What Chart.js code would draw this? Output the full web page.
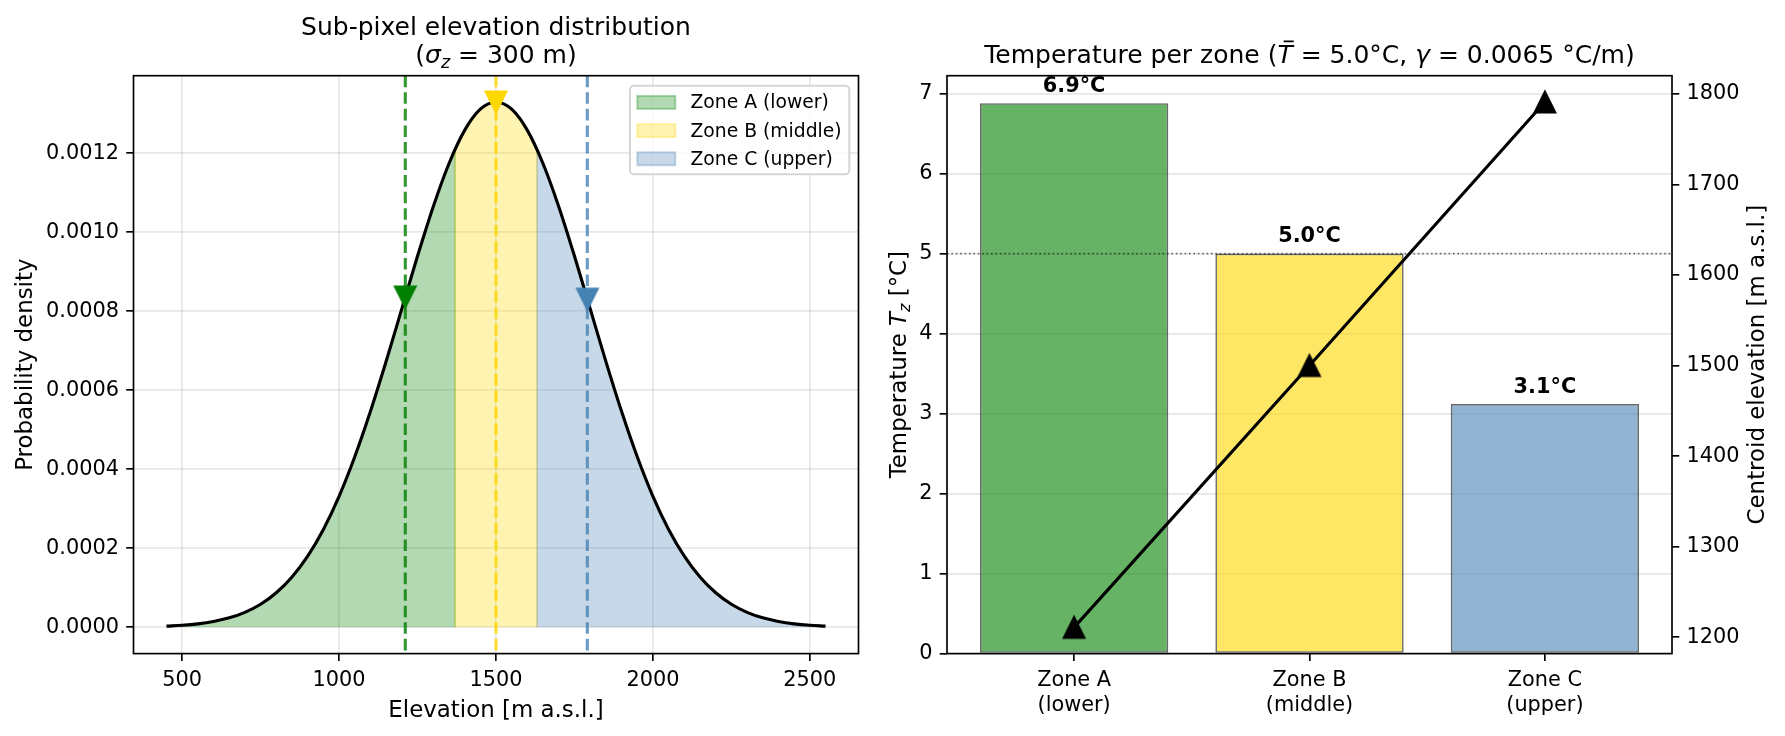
<!DOCTYPE html>
<html><head><meta charset="utf-8">
<script src="https://cdn.jsdelivr.net/npm/chart.js@4.4.0/dist/chart.umd.min.js"></script>
<style>
html,body{margin:0;padding:0;background:#fff;}
#wrap{position:relative;width:1785px;height:736px;overflow:hidden;background:#fff;}
canvas{position:absolute;top:0;}
#c1{left:0;} #c2{left:860px;}
</style></head><body>
<div id="wrap"><canvas id="c1" width="880" height="736"></canvas><canvas id="c2" width="925" height="736"></canvas></div>
<script>
// ---------------- data ----------------
const elevation = [450,500,550,600,650,700,750,800,850,900,950,1000,1050,1100,1150,1200,1250,1300,1350,1400,1450,1500,
  1550,1600,1650,1700,1750,1800,1850,1900,1950,2000,2050,2100,2150,2200,2250,2300,2350,2400,2450,2500,2550];
const density = [0.0000029,0.0000051,0.0000088,0.0000148,0.0000240,0.0000380,0.0000584,0.0000874,0.0001272,0.0001800,
  0.0002477,0.0003316,0.0004317,0.0005467,0.0006733,0.0008066,0.0009398,0.0010648,0.0011735,0.0012579,0.0013115,0.0013298,
  0.0013115,0.0012579,0.0011735,0.0010648,0.0009398,0.0008066,0.0006733,0.0005467,0.0004317,0.0003316,0.0002477,0.0001800,
  0.0001272,0.0000874,0.0000584,0.0000380,0.0000240,0.0000148,0.0000088,0.0000051,0.0000029];
const zoneNames = ['Zone A (lower)', 'Zone B (middle)', 'Zone C (upper)'];
const zoneTickLabels = [['Zone A', '(lower)'], ['Zone B', '(middle)'], ['Zone C', '(upper)']];
const zoneEdges = [1370, 1631];
const zoneEdgeDensity = [0.0012106, 0.0012089];
const centroidElev = [1211, 1500, 1791];
const centroidDensity = [0.0008362, 0.0013298, 0.0008307];
const zoneTemp = [6.88, 5.0, 3.12];
const meanTemp = 5.0;
const elevTicks = [500, 1000, 1500, 2000, 2500];
const densityTicks = [0, 0.0002, 0.0004, 0.0006, 0.0008, 0.0010, 0.0012];
const tempTicks = [0, 1, 2, 3, 4, 5, 6, 7];
const centroidTicks = [1200, 1300, 1400, 1500, 1600, 1700, 1800];

// ---------------- style ----------------
const PT = 150 / 72;
const FS_TICK = 10 * PT, FS_LABEL = 11 * PT, FS_TITLE = 12 * PT, FS_LEG = 9 * PT;
const GRID = 'rgba(176,176,176,0.3)';
const LW_AX = 0.8 * PT;
const zoneFill = ['rgba(0,128,0,0.3)', 'rgba(255,215,0,0.3)', 'rgba(70,130,180,0.3)'];
const zoneDash = ['rgba(0,128,0,0.8)', 'rgba(255,215,0,0.8)', 'rgba(70,130,180,0.8)'];
const zoneSolid = ['#008000', '#FFD700', '#4682B4'];
const barFill = ['rgba(0,128,0,0.6)', 'rgba(255,215,0,0.6)', 'rgba(70,130,180,0.6)'];
const FAM = '"DejaVu Sans", sans-serif';

Chart.defaults.font.family = FAM;
Chart.defaults.color = '#000';

function fnt(size, italic, bold) { return (italic ? 'italic ' : 'normal ') + (bold ? 'bold ' : 'normal ') + size + 'px ' + FAM; }
function drawRich(ctx, parts, x, y, size, align) {
  let w = 0;
  for (const p of parts) { ctx.font = fnt(size * (p.scale || 1), p.italic, p.bold); w += ctx.measureText(p.t).width; }
  let cx = align === 'center' ? x - w / 2 : x;
  ctx.textAlign = 'left'; ctx.textBaseline = 'alphabetic'; ctx.fillStyle = '#000';
  for (const p of parts) {
    const s = size * (p.scale || 1);
    ctx.font = fnt(s, p.italic, p.bold);
    const pw = ctx.measureText(p.t).width;
    ctx.fillText(p.t, cx, y + (p.dy || 0) * size);
    if (p.bar) { ctx.fillRect(cx + 0.25 * s, y - 0.9 * s, 0.4 * s, 0.07 * s); }
    cx += pw;
  }
}
function triImg(color, down) {
  const c = document.createElement('canvas'); c.width = 28; c.height = 28;
  const g = c.getContext('2d'); const h = 10.4, m = 14;
  g.beginPath();
  if (down) { g.moveTo(m - h, m - h); g.lineTo(m + h, m - h); g.lineTo(m, m + h); }
  else { g.moveTo(m, m - h); g.lineTo(m + h, m + h); g.lineTo(m - h, m + h); }
  g.closePath(); g.fillStyle = color; g.fill();
  g.strokeStyle = color; g.lineWidth = 2; g.lineJoin = 'miter'; g.stroke();
  return c;
}
const setTicks = arr => s => { s.ticks = arr.map(v => ({ value: v })); };
const fixW = w => s => { s.width = w; };
const fixH = h => s => { s.height = h; };
const axisGrid = (show) => ({ display: true, offset: false, drawOnChartArea: show, color: GRID, lineWidth: LW_AX, tickColor: '#000', tickWidth: LW_AX, tickLength: 7.3 });

function frame(chart) {
  const a = chart.chartArea, ctx = chart.ctx;
  ctx.save(); ctx.strokeStyle = '#000'; ctx.lineWidth = LW_AX;
  ctx.strokeRect(a.left, a.top, a.right - a.left, a.bottom - a.top); ctx.restore();
}

// ---------------- left chart ----------------
function zonePoints(i) {
  const lo = i === 0 ? -Infinity : zoneEdges[i - 1];
  const hi = i === zoneEdges.length ? Infinity : zoneEdges[i];
  const pts = [];
  if (i > 0) pts.push({ x: zoneEdges[i - 1], y: zoneEdgeDensity[i - 1] });
  elevation.forEach((x, k) => { if (x > lo && x < hi) pts.push({ x: x, y: density[k] }); });
  if (i < zoneEdges.length) pts.push({ x: zoneEdges[i], y: zoneEdgeDensity[i] });
  return pts;
}
const fillSets = zoneNames.map((n, i) => ({
  label: n, data: zonePoints(i), fill: 'origin', backgroundColor: zoneFill[i],
  borderColor: 'rgba(0,0,0,0)', borderWidth: 1, pointRadius: 0, cubicInterpolationMode: 'monotone', order: 2
}));

const leftPlugin = {
  id: 'leftDeco',
  beforeDatasetsDraw(chart) {
    const ctx = chart.ctx, a = chart.chartArea, xs = chart.scales.x, ys = chart.scales.y;
    ctx.save();
    zoneEdges.forEach((e, k) => {
      const px = xs.getPixelForValue(e);
      [zoneFill[k], zoneFill[k + 1]].forEach(col => {
        ctx.strokeStyle = col; ctx.lineWidth = 1.6; ctx.beginPath();
        ctx.moveTo(px, ys.getPixelForValue(0)); ctx.lineTo(px, ys.getPixelForValue(zoneEdgeDensity[k])); ctx.stroke();
      });
    });
    centroidElev.forEach((c, i) => {
      const px = xs.getPixelForValue(c);
      ctx.strokeStyle = zoneDash[i]; ctx.lineWidth = 1.5 * PT; ctx.setLineDash([3.7 * 1.5 * PT, 1.6 * 1.5 * PT]);
      ctx.beginPath(); ctx.moveTo(px, a.top); ctx.lineTo(px, a.bottom); ctx.stroke();
    });
    ctx.restore();
  },
  afterDraw(chart) {
    const ctx = chart.ctx, a = chart.chartArea;
    frame(chart);
    const cx = (a.left + a.right) / 2, cy = (a.top + a.bottom) / 2;
    ctx.save();
    drawRich(ctx, [{ t: 'Sub-pixel elevation distribution' }], cx, 34.5, FS_TITLE, 'center');
    drawRich(ctx, [{ t: '(' }, { t: 'σ', italic: true }, { t: 'z', italic: true, scale: 0.7, dy: 0.2 }, { t: ' = 300 m)' }], cx, 63, FS_TITLE, 'center');
    drawRich(ctx, [{ t: 'Elevation [m a.s.l.]' }], cx, 717, FS_LABEL, 'center');
    ctx.save(); ctx.translate(31.8, cy); ctx.rotate(-Math.PI / 2);
    drawRich(ctx, [{ t: 'Probability density' }], 0, 0, FS_LABEL, 'center');
    ctx.restore();
    const bx = 630, by = 85.7, bw = 219.3, bh = 88.6;
    ctx.beginPath(); ctx.roundRect(bx, by, bw, bh, 4);
    ctx.fillStyle = 'rgba(255,255,255,0.8)'; ctx.fill();
    ctx.strokeStyle = 'rgba(204,204,204,0.8)'; ctx.lineWidth = 2; ctx.stroke();
    const rows = [102.4, 130.6, 158.8];
    zoneNames.forEach((n, i) => {
      ctx.fillStyle = zoneFill[i]; ctx.fillRect(637.3, rows[i] - 6.5, 38, 13);
      ctx.strokeStyle = zoneFill[i]; ctx.lineWidth = 2; ctx.strokeRect(637.3, rows[i] - 6.5, 38, 13);
      drawRich(ctx, [{ t: n }], 690.5, rows[i] + 6, FS_LEG, 'left');
    });
    ctx.restore();
  }
};

new Chart(document.getElementById('c1'), {
  type: 'line',
  data: {
    datasets: [
      { label: 'centroids', data: centroidElev.map((x, i) => ({ x: x, y: centroidDensity[i] })), showLine: false,
        pointStyle: zoneSolid.map(c => triImg(c, true)), pointRadius: 10, pointHoverRadius: 10, order: 0 },
      { label: 'pdf', data: elevation.map((x, i) => ({ x: x, y: density[i] })), borderColor: '#000', borderWidth: 1.5 * PT,
        pointRadius: 0, cubicInterpolationMode: 'monotone', fill: false, order: 1 },
      ...fillSets
    ]
  },
  options: {
    responsive: false, animation: false, devicePixelRatio: 1,
    layout: { padding: { top: 75.7, right: 21.5, left: 0, bottom: 0 } },
    plugins: { legend: { display: false }, tooltip: { enabled: false }, filler: { drawTime: 'beforeDatasetsDraw', propagate: false } },
    events: [],
    scales: {
      x: { type: 'linear', min: 345, max: 2655, afterBuildTicks: setTicks(elevTicks), afterFit: fixH(82.4),
        grid: axisGrid(true), border: { display: false },
        ticks: { padding: 7, font: { size: FS_TICK }, color: '#000', maxRotation: 0, autoSkip: false, callback: v => String(v) } },
      y: { type: 'linear', min: -0.0000665, max: 0.0013963, afterBuildTicks: setTicks(densityTicks), afterFit: fixW(133.5),
        grid: axisGrid(true), border: { display: false },
        ticks: { padding: 7.3, font: { size: FS_TICK }, color: '#000', autoSkip: false, callback: v => v.toFixed(4) } }
    }
  },
  plugins: [leftPlugin]
});

// ---------------- right chart ----------------
const rightPlugin = {
  id: 'rightDeco',
  afterDatasetDraw(chart, args) {
    if (args.index !== 0) return;
    const ctx = chart.ctx, a = chart.chartArea, xs = chart.scales.x, ys = chart.scales.y;
    ctx.save();
    const py = ys.getPixelForValue(meanTemp);
    ctx.strokeStyle = 'rgba(0,0,0,0.55)'; ctx.lineWidth = 1.6; ctx.setLineDash([1.6, 2.8]);
    ctx.beginPath(); ctx.moveTo(a.left, py); ctx.lineTo(a.right, py); ctx.stroke();
    ctx.setLineDash([]);
    zoneTemp.forEach((t, i) => {
      ctx.font = fnt(FS_TICK, false, true); ctx.fillStyle = '#000'; ctx.textAlign = 'center'; ctx.textBaseline = 'alphabetic';
      ctx.fillText(t.toFixed(1) + '°C', xs.getPixelForValue(i), ys.getPixelForValue(t + 0.1) - 3.5);
    });
    ctx.restore();
  },
  afterDraw(chart) {
    const ctx = chart.ctx, a = chart.chartArea;
    frame(chart);
    const cx = (a.left + a.right) / 2, cy = (a.top + a.bottom) / 2;
    ctx.save();
    drawRich(ctx, [{ t: 'Temperature per zone (' }, { t: 'T', italic: true, bar: true }, { t: ' = 5.0°C, ' },
      { t: 'γ', italic: true }, { t: ' = 0.0065 °C/m)' }], cx, 63, FS_TITLE, 'center');
    ctx.save(); ctx.translate(45.5, cy); ctx.rotate(-Math.PI / 2);
    drawRich(ctx, [{ t: 'Temperature ' }, { t: 'T', italic: true }, { t: 'z', italic: true, scale: 0.7, dy: 0.2 }, { t: ' [°C]' }], 0, 0, FS_LABEL, 'center');
    ctx.restore();
    ctx.save(); ctx.translate(904, cy); ctx.rotate(-Math.PI / 2);
    drawRich(ctx, [{ t: 'Centroid elevation [m a.s.l.]' }], 0, 0, FS_LABEL, 'center');
    ctx.restore();
    ctx.restore();
  }
};

new Chart(document.getElementById('c2'), {
  type: 'bar',
  data: {
    datasets: [
      { type: 'bar', label: 'T', data: zoneTemp.map((t, i) => ({ x: i, y: t })), backgroundColor: barFill,
        borderColor: 'rgba(0,0,0,0.6)', borderWidth: 1.6, borderSkipped: false, barPercentage: 0.8, categoryPercentage: 1,
        yAxisID: 'y', order: 1 },
      { type: 'line', label: 'z', data: centroidElev.map((z, i) => ({ x: i, y: z })), yAxisID: 'y1',
        borderColor: '#000', borderWidth: 1.5 * PT, pointStyle: triImg('#000', false), pointRadius: 10, pointHoverRadius: 10,
        tension: 0, fill: false, order: 0 }
    ]
  },
  options: {
    responsive: false, animation: false, devicePixelRatio: 1, events: [],
    layout: { padding: { top: 75.7, right: 0, left: 0, bottom: 0 } },
    plugins: { legend: { display: false }, tooltip: { enabled: false } },
    scales: {
      x: { type: 'linear', min: -0.54, max: 2.54, offset: false, afterBuildTicks: setTicks(zoneTickLabels.map((_, i) => i)),
        afterFit: fixH(82.4), grid: axisGrid(false), border: { display: false },
        ticks: { padding: 7, font: { size: FS_TICK }, color: '#000', maxRotation: 0, autoSkip: false,
          callback: (v, i) => zoneTickLabels[i] } },
      y: { type: 'linear', position: 'left', min: 0, max: 7.224, z: 1, afterBuildTicks: setTicks(tempTicks), afterFit: fixW(87),
        grid: axisGrid(true), border: { display: false },
        ticks: { padding: 7.3, font: { size: FS_TICK }, color: '#000', autoSkip: false, callback: v => String(v) } },
      y1: { type: 'linear', position: 'right', min: 1182, max: 1820, afterBuildTicks: setTicks(centroidTicks), afterFit: fixW(113),
        grid: axisGrid(false), border: { display: false },
        ticks: { padding: 7.3, font: { size: FS_TICK }, color: '#000', autoSkip: false, callback: v => String(v) } }
    }
  },
  plugins: [rightPlugin]
});
</script>
</body></html>
